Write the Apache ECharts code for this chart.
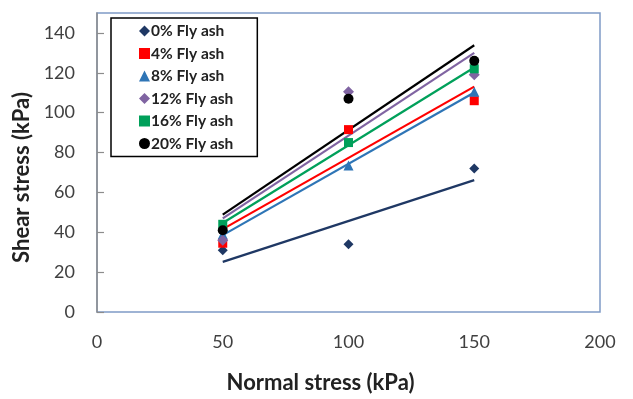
<!DOCTYPE html>
<html><head><meta charset="utf-8">
<script src="https://cdn.jsdelivr.net/npm/echarts@6/dist/echarts.min.js"></script>
<style>html,body{margin:0;padding:0;background:#fff}#c{width:633px;height:399px}</style>
</head><body><div id="c"></div>
<script>
const normalStress = [50, 100, 150];
const seriesNames = ['0% Fly ash','4% Fly ash','8% Fly ash','12% Fly ash','16% Fly ash','20% Fly ash'];
const flyAsh0  = [31, 34, 72];
const flyAsh4  = [34.5, 91.5, 106];
const flyAsh8  = [39, 73.5, 110.5];
const flyAsh12 = [36, 110.5, 119];
const flyAsh16 = [44, 85, 122];
const flyAsh20 = [41, 107, 126];
const yTicks = [0,20,40,60,80,100,120,140];

const values = [flyAsh0, flyAsh4, flyAsh8, flyAsh12, flyAsh16, flyAsh20];
const colors = ['#1F3864','#FF0000','#2E75B6','#8064A2','#00A05A','#000000'];
const symbols = ['diamond','rect','triangle','diamond','rect','circle'];
const sizes = [10,9,10,11,9,10];

function fit(xs, ys){
  const n = xs.length;
  const mx = xs.reduce((a,b)=>a+b,0)/n, my = ys.reduce((a,b)=>a+b,0)/n;
  let sxy=0, sxx=0;
  for(let i=0;i<n;i++){sxy+=(xs[i]-mx)*(ys[i]-my); sxx+=(xs[i]-mx)**2;}
  const b = sxy/sxx, a = my-b*mx;
  return [[xs[0], a+b*xs[0]],[xs[n-1], a+b*xs[n-1]]];
}

const series = [];
values.forEach((v,i)=>{
  series.push({
    type:'line', name:'trend'+i, data: fit(normalStress, v), symbol:'none',
    lineStyle:{color:colors[i], width:2.2}, silent:true, z:2
  });
});
values.forEach((v,i)=>{
  series.push({
    type:'scatter', name: seriesNames[i], data: normalStress.map((x,j)=>[x,v[j]]),
    symbol: symbols[i], symbolSize: sizes[i], itemStyle:{color:colors[i], opacity:1}, z:3
  });
});

const chart = echarts.init(document.getElementById('c'));
chart.setOption({
  animation:false,
  backgroundColor:'#fff',
  grid:{left:97, right:33, top:13, bottom:86, show:true, borderColor:'#7F9BC6', borderWidth:1.5},
  legend:{
    data: seriesNames.map((n,i)=>({name:n, icon:symbols[i]})),
    orient:'vertical', left:111, top:18, itemGap:6.5, itemWidth:11, itemHeight:11,
    backgroundColor:'#fff', borderColor:'#000', borderWidth:1.5,
    padding:[5,24,5,28],
    textStyle:{fontFamily:'Lato', fontWeight:'bold', fontSize:15.5, color:'#222', padding:[0,0,0,-4]}
  },
  xAxis:{
    type:'value', min:0, max:200, interval:50,
    name:'Normal stress (kPa)', nameLocation:'middle', nameGap:60,
    nameTextStyle:{fontFamily:'Lato', fontWeight:'bold', fontSize:22, color:'#222', padding:[0,56,0,0]},
    axisLine:{show:false}, axisTick:{show:false}, splitLine:{show:false},
    axisLabel:{fontFamily:'Lato', fontSize:18, color:'#404040', margin:21}
  },
  yAxis:{
    type:'value', min:0, max:150, interval:20,
    name:'Shear stress (kPa)', nameLocation:'middle', nameGap:59, nameRotate:90,
    nameTextStyle:{fontFamily:'Lato', fontWeight:'bold', fontSize:22, color:'#222', padding:[0,30,0,0]},
    axisLine:{show:true, lineStyle:{color:'#8C8C8C', width:1.5}},
    axisTick:{show:true, inside:true, length:7, lineStyle:{color:'#8C8C8C', width:1.2}},
    splitLine:{show:false},
    axisLabel:{fontFamily:'Lato', fontSize:18, color:'#404040', margin:22, showMaxLabel:false,
      formatter: v => yTicks.includes(v) ? String(v) : ''}
  },
  series
});
</script>
</body></html>
